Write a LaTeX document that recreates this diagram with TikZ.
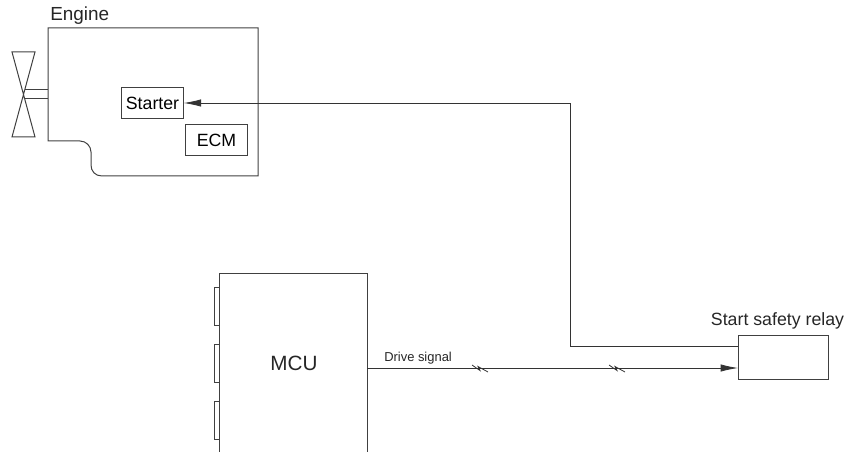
\documentclass[tikz,border=0pt]{standalone}
\usepackage{fontspec}
\setmainfont{Liberation Sans}
\usetikzlibrary{arrows.meta}
\tikzset{
  wire/.style={draw=black!80, line width=0.6pt},
  outline/.style={draw=black!75, line width=0.75pt},
  boxlabel/.style={draw=black!75, line width=0.75pt, inner sep=0pt, font=\fontsize{13.3pt}{15pt}\selectfont},
  plainlabel/.style={inner sep=0pt, text=black!85, font=\fontsize{13.3pt}{15pt}\selectfont},
  tip/.style={-{Latex[length=13pt,width=5.5pt]}}
}
\newcommand{\mcutab}[2]{\draw[outline] (219,#1) -- (214,#1) -- (214,#2) -- (219,#2);}
\newcommand{\wirebreak}[1]{\draw[wire] (#1-7,365) -- (#1+1,370.5) -- (#1-1,366.5) -- (#1+9,372);}
\begin{document}
\begin{tikzpicture}[x=0.75pt,y=-0.75pt]
  \useasboundingbox (0,0) rectangle (848,452);
  % engine
  \draw[outline] (48,28) -- (258,28) -- (258,176) -- (102,176)
    .. controls (95,176) and (91,171) .. (91,165) -- (91,152)
    .. controls (91,146) and (86,141) .. (80,141) -- (48,141) -- cycle;
  \node[plainlabel,anchor=west,font=\fontsize{14.2pt}{16pt}\selectfont] (engine) at (50,16) {Engine};
  \node[boxlabel,minimum width=46pt,minimum height=23pt] (starter) at (152.5,103) {Starter};
  \node[boxlabel,minimum width=46pt,minimum height=23pt] (ecm) at (216.5,140) {ECM};
  % fan
  \draw[outline] (12,52) -- (35,52) -- (12,137) -- (35,137) -- cycle;
  \draw[outline] (25,90) -- (48,90);
  \draw[outline] (24,99) -- (48,99);
  % mcu
  \draw[outline] (219,452) -- (219,273.5) -- (367,273.5) -- (367,452);
  \mcutab{287}{325}
  \mcutab{344}{382}
  \mcutab{401}{439}
  \node[inner sep=0pt,text=black!85,font=\fontsize{15.5pt}{18pt}\selectfont] (mcu) at (294,363) {MCU};
  \coordinate (mcuout) at (367,368);
  % relay
  \node[outline,draw,inner sep=0pt,minimum width=67.5pt,minimum height=33pt] (relay) at (783,357) {};
  \node[plainlabel] (relaylabel) at (777.5,321) {Start safety relay};
  \coordinate (relayin) at (738,368);
  \coordinate (relayout) at (738,346);
  % wires
  \draw[wire,tip] (relayout) -- (570,346) -- (570,103) -- (starter.east);
  \draw[wire,tip] (mcuout) -- (relayin);
  \node[inner sep=0pt,text=black!85,font=\fontsize{9.7pt}{11pt}\selectfont,anchor=west] (drive) at (384,358) {Drive signal};
  \wirebreak{479}
  \wirebreak{616}
\end{tikzpicture}
\end{document}
